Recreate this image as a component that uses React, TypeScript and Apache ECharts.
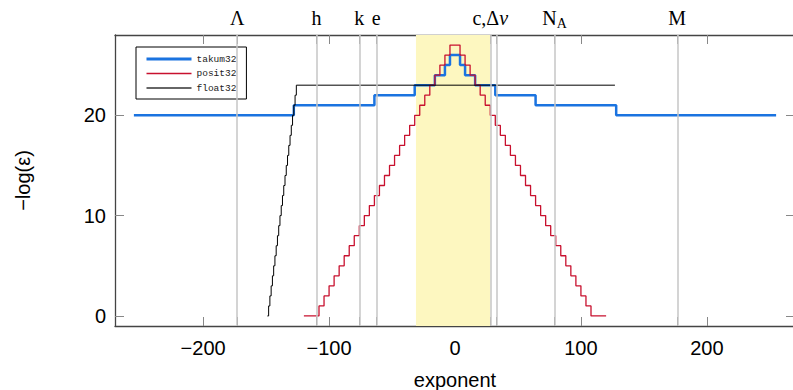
import React, { useEffect, useRef } from 'react';
import * as echarts from 'echarts';

// takum32 staircase: level begins at each x
const takumX = [-255, -128, -64, -32, -16, -8, -4, 4, 8, 16, 32, 64, 128, 255];
const takumY = [20, 21, 22, 23, 24, 25, 26, 25, 24, 23, 22, 21, 20, 20];

const positX = [
  -120, -108, -104, -100, -96, -92, -88, -84, -80, -76, -72, -68, -64, -60, -56, -52, -48, -44, -40,
  -36, -32, -28, -24, -20, -16, -12, -8, -4, 4, 8, 12, 16, 20, 24, 28, 32, 36, 40, 44, 48, 52, 56,
  60, 64, 68, 72, 76, 80, 84, 88, 92, 96, 100, 104, 108, 120,
];
const positY = [
  0, 1, 2, 3, 4, 5, 6, 7, 8, 9, 10, 11, 12, 13, 14, 15, 16, 17, 18, 19, 20, 21, 22, 23, 24, 25, 26, 27,
  26, 25, 24, 23, 22, 21, 20, 19, 18, 17, 16, 15, 14, 13, 12, 11, 10, 9, 8, 7, 6, 5, 4, 3, 2, 1, 0, 0,
];

const floatX = [
  -149, -148, -147, -146, -145, -144, -143, -142, -141, -140, -139, -138, -137, -136, -135, -134,
  -133, -132, -131, -130, -129, -128, -127, -126, 127,
];
const floatY = [0, 1, 2, 3, 4, 5, 6, 7, 8, 9, 10, 11, 12, 13, 14, 15, 16, 17, 18, 19, 20, 21, 22, 23, 23];

const xTicks = [-200, -100, 0, 100, 200];
const yTicks = [0, 10, 20];
const constantValues = [-173, -110, -76, -62.5, 28, 33, 79, 176.5];
const constantLabels = ['{r|Λ}', '{r|h}', '{r|k}', '{r|e}', '{r|c,Δ}{i|ν}', '', '{r|N}{s|A}', '{r|M}'];
const bandRange = [-31, 28];

const sans = 'Liberation Sans, Arial, sans-serif';
const serif = 'Liberation Serif, Times New Roman, serif';
const mono = 'Liberation Mono, DejaVu Sans Mono, monospace';

const minus = (v: number) => String(v).replace('-', '\u2212');

export default function App() {
  const ref = useRef<HTMLDivElement>(null);
  useEffect(() => {
    if (!ref.current) return;
    const chart = echarts.init(ref.current, undefined, { renderer: 'svg' });
    const axisLine = { show: true, onZero: false, lineStyle: { color: '#444', width: 1.3 } };
    const tickStyle = { color: '#888', width: 1 };
    const hidden = { opacity: 0 };
    chart.setOption({
      animation: false,
      grid: { left: 115, top: 35, width: 680, height: 291, containLabel: false, outerBoundsMode: 'none' },
      legend: {
        left: 136,
        top: 47,
        orient: 'vertical',
        padding: [7, 10, 6, 9],
        itemWidth: 45,
        itemHeight: 8,
        itemGap: 4.5,
        borderColor: '#000',
        borderWidth: 1,
        backgroundColor: '#fff',
        borderRadius: 0,
        textStyle: { fontFamily: mono, fontSize: 9.5, color: '#222' },
        data: [
          { name: 'takum32', lineStyle: { width: 3 }, itemStyle: hidden },
          { name: 'posit32', lineStyle: { width: 1.5 }, itemStyle: hidden },
          { name: 'float32', lineStyle: { width: 2, color: '#666' }, itemStyle: hidden },
        ],
      },
      xAxis: [
        {
          type: 'value',
          min: -270,
          max: 270,
          position: 'bottom',
          axisLine,
          splitLine: { show: false },
          axisTick: { inside: true, length: 9, customValues: [...xTicks, ...constantValues], lineStyle: tickStyle },
          axisLabel: {
            customValues: xTicks,
            formatter: (v: number) => minus(v),
            fontFamily: sans,
            fontSize: 20,
            color: '#000',
            margin: 12,
          },
          name: 'exponent',
          nameLocation: 'middle',
          nameGap: 44,
          nameTextStyle: { fontFamily: sans, fontSize: 20, color: '#000' },
        },
        {
          type: 'value',
          min: -270,
          max: 270,
          position: 'top',
          axisLine,
          splitLine: { show: false },
          axisTick: { inside: true, length: 9, customValues: [...xTicks, ...constantValues], lineStyle: tickStyle },
          axisLabel: {
            customValues: constantValues,
            margin: 5,
            formatter: (v: number) => {
              const i = constantValues.indexOf(v);
              return i >= 0 ? constantLabels[i] : '';
            },
            rich: {
              r: { fontFamily: serif, fontSize: 20, color: '#000', lineHeight: 24 },
              i: { fontFamily: serif, fontSize: 20, fontStyle: 'italic', color: '#000', lineHeight: 24 },
              s: { fontFamily: serif, fontSize: 14, color: '#000', lineHeight: 24, padding: [10, 0, 0, 0] },
            },
          },
        },
      ],
      yAxis: [
        {
          type: 'value',
          min: -1,
          max: 28,
          position: 'left',
          axisLine,
          splitLine: { show: false },
          axisTick: { inside: true, length: 9, customValues: yTicks, lineStyle: tickStyle },
          axisLabel: {
            customValues: yTicks,
            fontFamily: sans,
            fontSize: 20,
            color: '#000',
            margin: 9,
          },
          name: '\u2212log(ε)',
          nameLocation: 'middle',
          nameGap: 82,
          nameTextStyle: { fontFamily: sans, fontSize: 20, color: '#000' },
        },
        {
          type: 'value',
          min: -1,
          max: 28,
          position: 'right',
          axisLine,
          splitLine: { show: false },
          axisTick: { inside: true, length: 9, customValues: yTicks, lineStyle: tickStyle },
          axisLabel: { show: false },
        },
      ],
      series: [
        {
          name: 'bg',
          type: 'line',
          data: [],
          z: 1,
          silent: true,
          markArea: {
            silent: true,
            itemStyle: { color: '#fdf7c0' },
            data: [[{ xAxis: bandRange[0] }, { xAxis: bandRange[1] }]],
          },
          markLine: {
            silent: true,
            symbol: 'none',
            label: { show: false },
            lineStyle: { color: '#c6c6c6', width: 1.5, type: 'solid' },
            data: constantValues.map((v) => ({ xAxis: v })),
          },
        },
        {
          name: 'takum32',
          type: 'line',
          step: 'end',
          symbol: 'none',
          lineStyle: { color: '#1a73e0', width: 2.5 },
          itemStyle: { color: '#1a73e0' },
          data: takumX.map((x, i) => [x, takumY[i]]),
        },
        {
          name: 'posit32',
          type: 'line',
          step: 'end',
          symbol: 'none',
          lineStyle: { color: '#c8102e', width: 1.3 },
          itemStyle: { color: '#c8102e' },
          data: positX.map((x, i) => [x, positY[i]]),
        },
        {
          name: 'float32',
          type: 'line',
          step: 'end',
          symbol: 'none',
          lineStyle: { color: '#000', width: 1 },
          itemStyle: { color: '#000' },
          data: floatX.map((x, i) => [x, floatY[i]]),
        },
      ],
    });
    return () => chart.dispose();
  }, []);
  return (
    <div
      ref={ref}
      style={{ position: 'fixed', left: 0, top: 0, width: 793, height: 390, background: '#fff' }}
    />
  );
}
